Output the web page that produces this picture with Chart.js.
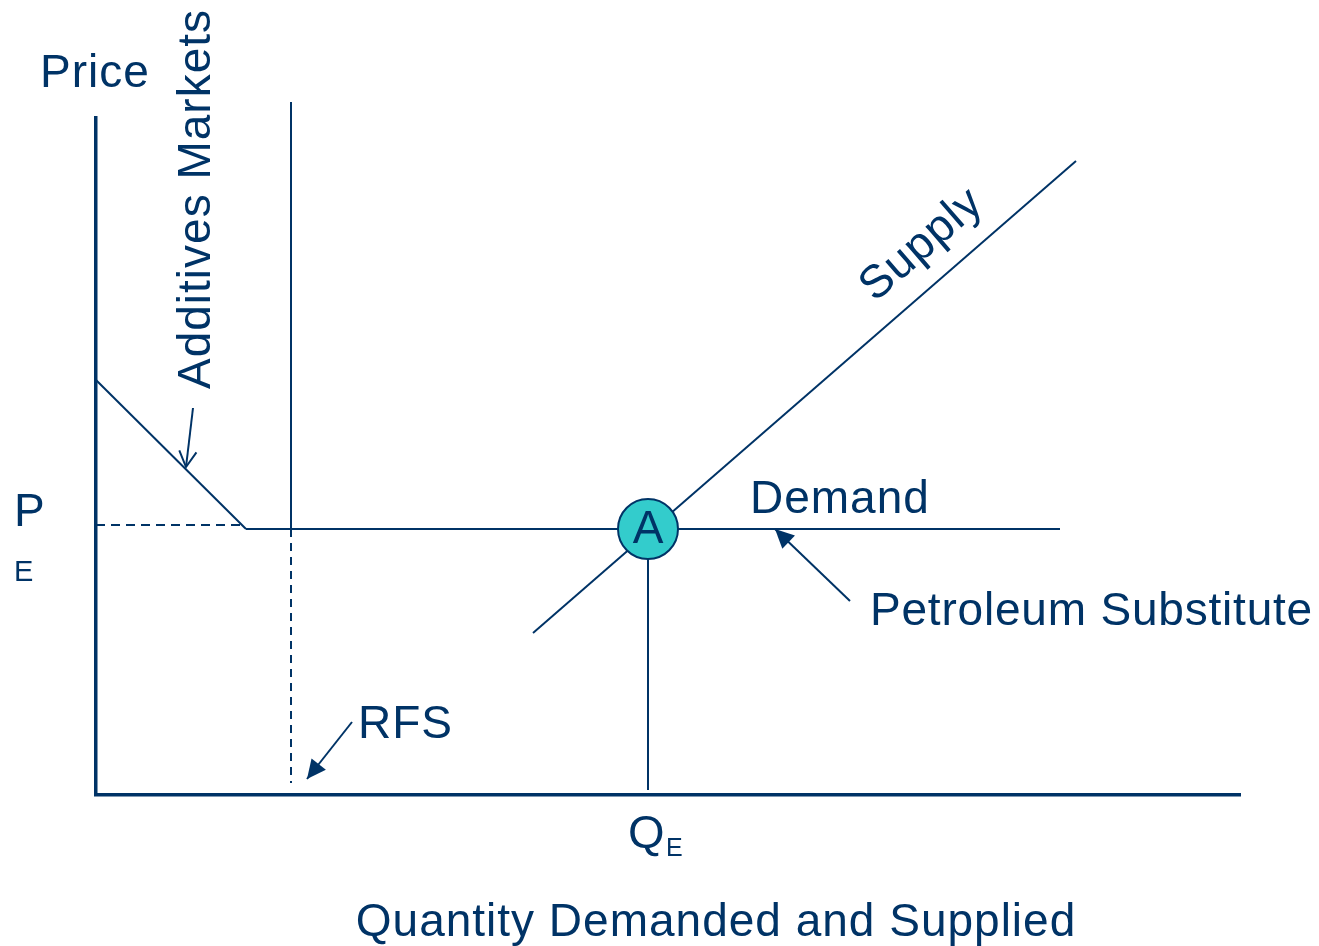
<!DOCTYPE html>
<html>
<head>
<meta charset="utf-8">
<script src="https://cdn.jsdelivr.net/npm/chart.js@4.4.1/dist/chart.umd.min.js"></script>
<style>
  html, body { margin: 0; padding: 0; background: #fff; }
  #chart { display: block; }
</style>
</head>
<body>
<canvas id="chart" width="1319" height="946"></canvas>
<script>
// axis extents (quantity / price units)
var xMax = 114.4,
    yMax = 67.7;

// curves
var additivesDemand = [[0, 41.5], [15, 26.6]];
var petroleumDemand = [[15, 26.6], [96.4, 26.6]];
var supplyLine = [[43.7, 16.2], [98.0, 63.4]];
var rfsSolid = [[19.5, 26.6], [19.5, 69.3]];
var rfsDashed = [[19.5, 26.6], [19.5, 1.2]];
var priceGuide = [[0, 27.0], [15, 27.0]];
var quantityGuide = [[55.2, 26.6], [55.2, 0.5]];
var equilibrium = [[55.2, 26.6]];

// pointer arrows (tail, tip)
var additivesArrow = [[9.7, 38.7], [9.0, 32.8]];
var rfsArrow = [[25.6, 7.3], [21.1, 1.6]];
var petroleumArrow = [[75.4, 19.4], [67.9, 26.6]];

// text labels
var labelTexts = ["Price", "Additives Markets", "Supply", "Demand", "Petroleum Substitute",
                  "RFS", "P", "E", "Q", "E", "Quantity Demanded and Supplied", "A"];
var labelAt = [[-5.6, 72.1], [10.1, 59.6], [82.6, 55.0], [65.4, 29.5], [77.4, 18.3],
               [26.2, 7.0], [-8.2, 28.2], [-8.2, 22.2], [53.2, -4.0], [57.0, -5.4], [62.0, -12.8], [55.2, 26.5]];

var navy = "#003366";
var fontFamily = "'Liberation Sans', Arial, sans-serif";
var labelStyle = [
    { size: 46, align: "left", rot: 0, spacing: 1 },
    { size: 46, align: "center", rot: -90, spacing: 1 },
    { size: 46, align: "center", rot: -41, spacing: 1 },
    { size: 46, align: "left", rot: 0, spacing: 1 },
    { size: 46, align: "left", rot: 0, spacing: 0.8 },
    { size: 46, align: "left", rot: 0, spacing: 1 },
    { size: 46, align: "left", rot: 0, spacing: 1 },
    { size: 29, align: "left", rot: 0, spacing: 0 },
    { size: 47, align: "left", rot: 0, spacing: 0 },
    { size: 25, align: "left", rot: 0, spacing: 0 },
    { size: 46, align: "center", rot: 0, spacing: 1 },
    { size: 46, align: "center", rot: 0, spacing: 0 }
];

function toXY(list) {
    return list.map(function (p) { return { x: p[0], y: p[1] }; });
}

function line(data, extra) {
    var ds = {
        data: toXY(data),
        showLine: true,
        borderColor: navy,
        borderWidth: 2,
        pointRadius: 0,
        fill: false,
        clip: false,
        order: 1
    };
    for (var k in extra) ds[k] = extra[k];
    return ds;
}

var labelsPlugin = {
    id: "labels",
    afterDatasetsDraw: function (chart) {
        var ctx = chart.ctx,
            sx = chart.scales.x,
            sy = chart.scales.y;

        // arrow heads
        chart.data.datasets.forEach(function (ds, i) {
            if (!ds.arrow) return;
            var pts = chart.getDatasetMeta(i).data;
            var a = pts[pts.length - 2], b = pts[pts.length - 1];
            var ang = Math.atan2(b.y - a.y, b.x - a.x);
            var len = ds.arrow === "open" ? 18 : 21,
                spread = ds.arrow === "open" ? 0.5 : 0.45;
            ctx.save();
            ctx.strokeStyle = navy;
            ctx.fillStyle = navy;
            ctx.lineWidth = 2;
            ctx.beginPath();
            ctx.moveTo(b.x - len * Math.cos(ang - spread), b.y - len * Math.sin(ang - spread));
            ctx.lineTo(b.x, b.y);
            ctx.lineTo(b.x - len * Math.cos(ang + spread), b.y - len * Math.sin(ang + spread));
            if (ds.arrow === "open") {
                ctx.stroke();
            } else {
                ctx.closePath();
                ctx.fill();
            }
            ctx.restore();
        });

        // texts
        labelTexts.forEach(function (t, i) {
            var st = labelStyle[i];
            var px = sx.getPixelForValue(labelAt[i][0]),
                py = sy.getPixelForValue(labelAt[i][1]);
            ctx.save();
            ctx.translate(px, py);
            ctx.rotate(st.rot * Math.PI / 180);
            ctx.font = st.size + "px " + fontFamily;
            ctx.letterSpacing = st.spacing + "px";
            ctx.fillStyle = navy;
            ctx.textAlign = st.align;
            ctx.textBaseline = "middle";
            ctx.fillText(t, 0, 0);
            ctx.restore();
        });
    }
};

new Chart("chart", {
    type: "scatter",
    data: {
        datasets: [
            {
                data: toXY(equilibrium),
                pointRadius: 30,
                pointBackgroundColor: "#33CCCC",
                pointBorderColor: navy,
                pointBorderWidth: 2,
                clip: false,
                order: 0
            },
            line(additivesDemand),
            line(petroleumDemand),
            line(supplyLine),
            line(rfsSolid),
            line(rfsDashed, { borderDash: [8, 6] }),
            line(priceGuide, { borderDash: [9, 6] }),
            line(quantityGuide),
            line(additivesArrow, { arrow: "open" }),
            line(rfsArrow, { arrow: "filled" }),
            line(petroleumArrow, { arrow: "filled" })
        ]
    },
    options: {
        responsive: false,
        animation: false,
        layout: { padding: { left: 96, right: 79, top: 118, bottom: 151 } },
        plugins: {
            legend: { display: false },
            tooltip: { enabled: false }
        },
        scales: {
            x: {
                type: "linear",
                min: 0,
                max: xMax,
                grid: { display: false },
                ticks: { display: false },
                border: { display: true, color: navy, width: 3.5 },
                afterFit: function (s) { s.height = 0; }
            },
            y: {
                type: "linear",
                min: 0,
                max: yMax,
                grid: { display: false },
                ticks: { display: false },
                border: { display: true, color: navy, width: 3.5 },
                afterFit: function (s) { s.width = 0; }
            }
        }
    },
    plugins: [labelsPlugin]
});
</script>
</body>
</html>
